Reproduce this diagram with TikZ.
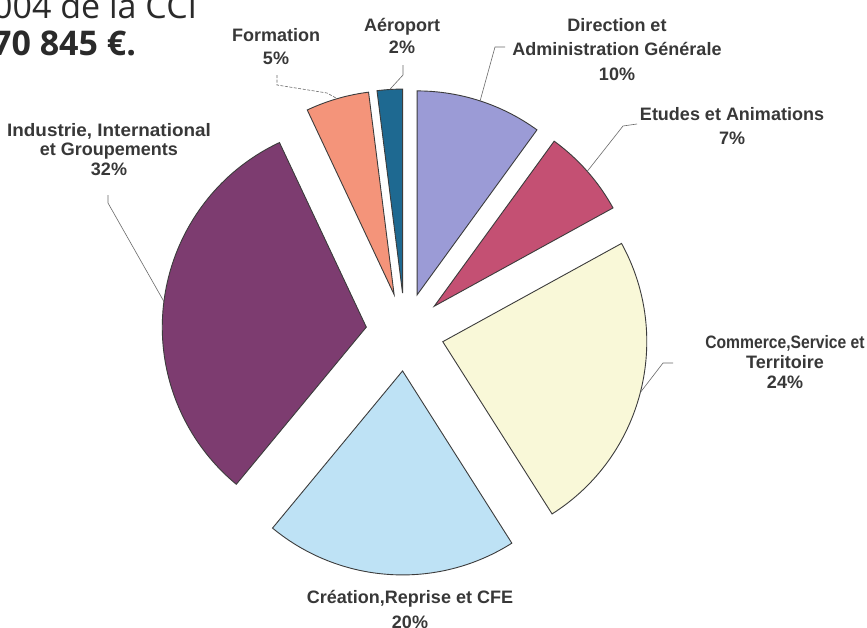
\documentclass[tikz,border=0pt]{standalone}
\usepackage{fontspec}
\setmainfont{Liberation Sans}
\newfontfamily\opensans{Open Sans}
\usetikzlibrary{calc}
\definecolor{cDir}{HTML}{9B9BD6}
\definecolor{cEtu}{HTML}{C45073}
\definecolor{cCom}{HTML}{F9F8D8}
\definecolor{cCre}{HTML}{BEE2F5}
\definecolor{cInd}{HTML}{7D3C70}
\definecolor{cFor}{HTML}{F4947A}
\definecolor{cAer}{HTML}{1E6991}
\definecolor{cEdge}{HTML}{3C3C3C}
\definecolor{cLbl}{HTML}{383838}
\definecolor{cLead}{HTML}{6A6A6A}
\definecolor{cHead}{HTML}{2A2A2A}
\begin{document}
\begin{tikzpicture}[x=1pt,y=1pt,
  slice/.style={draw=cEdge, line width=0.9pt, line join=miter},
  lbl/.style={font=\fontsize{18}{23}\selectfont\bfseries, text=cLbl, align=center, inner sep=0pt, anchor=north},
  leader/.style={draw=cLead, line width=0.6pt},
  headtxt/.style={inner sep=0pt, anchor=base west, text=cHead}]
\useasboundingbox (0,0) rectangle (867,-627);
\fill[white] (0,0) rectangle (867,-627);

% heading (cut at the left edge)
\node[headtxt, font=\opensans\fontsize{34}{34}\selectfont] (head1) at (-7,-18) {004 de la CCI};
\node[headtxt, font=\opensans\bfseries\fontsize{34}{34}\selectfont] (head2) at (-8,-55) {70 845 €.};

% exploded pie
\begin{scope}[shift={(405,-332)}]
  \foreach \a/\b/\c/\n in {54/90/cDir/mD, 28.8/54/cEtu/mE, -57.6/28.8/cCom/mC,
      -129.6/-57.6/cCre/mR, 115.2/230.4/cInd/mI, 97.2/115.2/cFor/mF, 90/97.2/cAer/mA}{
    \pgfmathsetmacro\m{(\a+\b)/2}
    \draw[slice, fill=\c] (\m:39) -- +(\a:204) arc[start angle=\a, end angle=\b, radius=204] -- cycle;
    \coordinate (\n) at (\m:243);
  }
\end{scope}

% labels
\node[lbl] (lF) at (276,-28) {Formation\\5\%};
\node[lbl, font=\fontsize{18}{22}\selectfont\bfseries] (lA) at (402,-18) {Aéroport\\2\%};
\node[lbl, font=\fontsize{18}{24.5}\selectfont\bfseries] (lD) at (617,-18) {Direction et\\Administration Générale\\10\%};
\node[lbl, font=\fontsize{18}{24}\selectfont\bfseries] (lE) at (732,-107) {Etudes et Animations\\7\%};
\node[lbl, font=\fontsize{18}{19.5}\selectfont\bfseries] (lI) at (109,-123) {\scalebox{1.05}[1]{Industrie, International}\\et Groupements\\32\%};
\node[lbl, font=\fontsize{18}{20}\selectfont\bfseries] (lC) at (785,-335) {\scalebox{0.87}[1]{Commerce,Service et}\\Territoire\\24\%};
\node[lbl, font=\fontsize{18}{25}\selectfont\bfseries] (lR) at (410,-590) {Création,Reprise et CFE\\20\%};

% leader starts
\coordinate (qF) at (277,-75);
\coordinate (qA) at (403,-65);
\coordinate (qD) at (505,-47);
\coordinate (qE) at (637,-124);
\coordinate (qC) at (673,-363);
\coordinate (qI) at (108,-195);

% leaders
\draw[leader, dashed, dash pattern=on 3pt off 1.5pt] (qF) -- ++(0,-10) -- (327,-93) -- (mF);
\draw[leader] (qA) -- ++(0,-10) -- (mA);
\draw[leader] (qD) -- ++(-10,0) -- (mD);
\draw[leader] (qE) -- ++(-14,-2) -- (mE);
\draw[leader] (qC) -- ++(-10,0) -- (mC);
\draw[leader] (qI) -- ++(0,-8) -- (mI);
\end{tikzpicture}
\end{document}
